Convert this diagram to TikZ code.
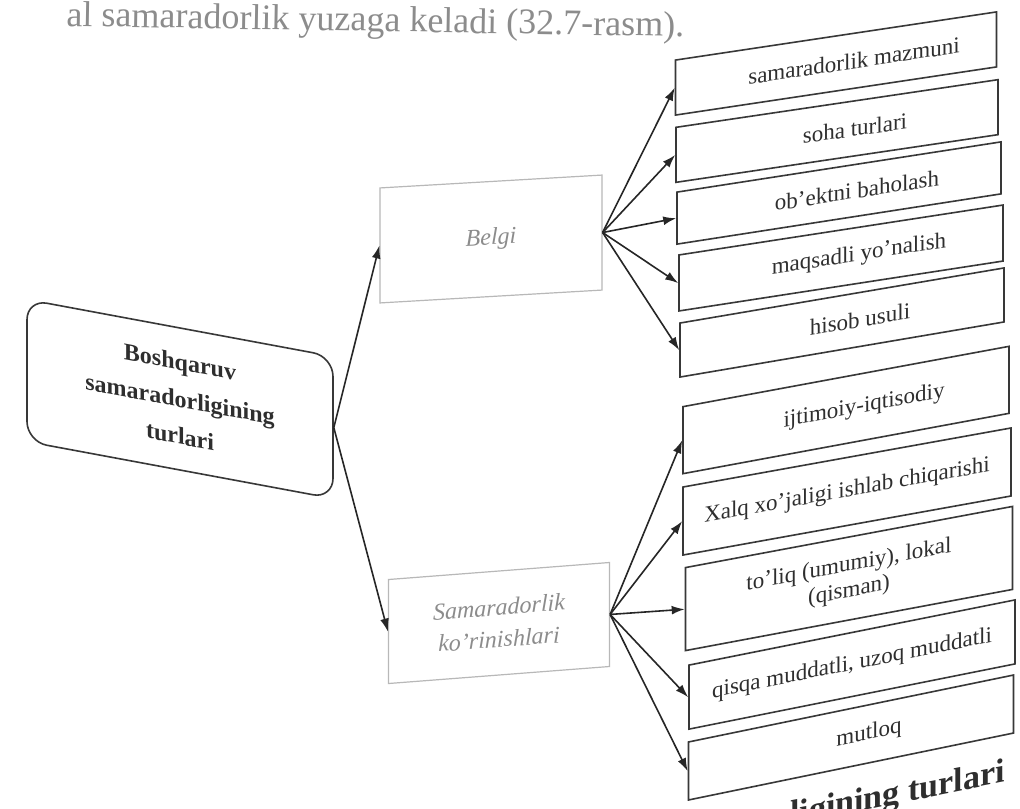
\documentclass[tikz,border=0pt]{standalone}
\usepackage{fontspec}
\setmainfont{Liberation Serif}
\usetikzlibrary{arrows.meta}
\definecolor{boxline}{gray}{0.22}
\definecolor{txt}{gray}{0.18}
\definecolor{lightline}{gray}{0.72}
\definecolor{midtxt}{gray}{0.55}
\definecolor{arrowc}{gray}{0.15}
\definecolor{toptxt}{gray}{0.55}
\begin{document}
\begin{tikzpicture}[x=0.5pt,y=-0.5pt,
  rbox/.style={draw=boxline, line width=0.8pt, inner sep=0pt, align=center,
    font=\fontsize{11.5}{13}\selectfont, text=txt},
  rsh/.style={execute at begin node={\hspace*{18pt}}},
  midbox/.style={draw=lightline, line width=0.6pt, inner sep=0pt, align=center,
    font=\itshape\fontsize{12}{16}\selectfont, text=midtxt},
  mainbox/.style={draw=boxline, line width=0.8pt, rounded corners=10pt, inner sep=0pt,
    align=center, font=\bfseries\fontsize{12}{18.5}\selectfont, text=txt},
  arr/.style={-{Latex[length=6.5pt,width=4.4pt]}, line width=0.8pt, draw=arrowc}
]
\path[use as bounding box, fill=white] (0,0) rectangle (1020,808);

% top line of running text
\node[anchor=base west, rotate=-1, font=\fontsize{18}{20}\selectfont, text=toptxt, inner sep=0pt]
  (top) at (66,26) {al samaradorlik yuzaga keladi (32.7-rasm).};

% main node
\node[mainbox, minimum width=153pt, minimum height=71pt, yslant=-0.186] (m) at (180,399)
  {Boshqaruv\\samaradorligining\\turlari};

% middle nodes
\node[midbox, minimum width=111pt, minimum height=57.5pt, yslant=0.058] (b) at (491,239) {Belgi};
\node[midbox, minimum width=110.5pt, minimum height=52pt, yslant=0.077] (s) at (499,623)
  {Samaradorlik\\ko'rinishlari};

% right column
\node[rbox, rsh, minimum width=160.5pt, minimum height=27.5pt, yslant=0.150] (r1) at (836,63.5) {samaradorlik mazmuni};
\node[rbox, rsh, minimum width=161pt, minimum height=27.5pt, yslant=0.148] (r2) at (837,131) {soha turlari};
\node[rbox, rsh, minimum width=162pt, minimum height=26pt, yslant=0.155] (r3) at (839,193) {ob'ektni baholash};
\node[rbox, rsh, minimum width=162pt, minimum height=28pt, yslant=0.154] (r4) at (841,258) {maqsadli yo'nalish};
\node[rbox, rsh, minimum width=162pt, minimum height=27pt, yslant=0.170] (r5) at (842,322.5) {hisob usuli};
\node[rbox, rsh, minimum width=163pt, minimum height=33.5pt, yslant=0.185] (r6) at (846,410) {ijtimoiy-iqtisodiy};
\node[rbox, minimum width=164pt, minimum height=34pt, yslant=0.180] (r7) at (847,491.5) {Xalq xo'jaligi ishlab chiqarishi};
\node[rbox, minimum width=163.5pt, minimum height=41.5pt, yslant=0.187] (r8) at (849,578.5) {to'liq (umumiy), lokal\\(qisman)};
\node[rbox, minimum width=163pt, minimum height=32pt, yslant=0.200] (r9) at (852,664.5) {qisqa muddatli, uzoq muddatli};
\node[rbox, rsh, minimum width=162.5pt, minimum height=29pt, yslant=0.206] (r10) at (851,737.5) {mutloq};

% caption fragment
\node[anchor=base east, yslant=0.2, font=\bfseries\fontsize{17}{20}\selectfont, text=txt, inner sep=0pt]
  (cap) at (1005,782) {ligining turlari};

% connectors
\draw[arr] (m.east) -- (b.west);
\draw[arr] (m.east) -- (s.west);
\foreach \i in {1,...,5} { \draw[arr] (b.east) -- (r\i.west); }
\foreach \i in {6,...,10} { \draw[arr] (s.east) -- (r\i.west); }
\end{tikzpicture}
\end{document}
